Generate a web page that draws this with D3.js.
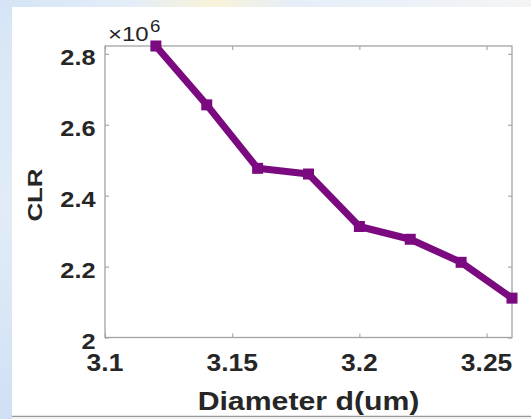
<!DOCTYPE html>
<html lang="en">
<head>
    <meta charset="UTF-8">
    <title>CLR vs Diameter</title>
    <style>
        body {
            margin: 0;
            padding: 0;
            background: #dbe8f6;
        }

        svg {
            display: block;
        }

        .lbl {
            font-family: "Liberation Sans", Arial, sans-serif;
            fill: #262626;
        }
    </style>
</head>
<body>
<svg id="chart"></svg>

<script src="https://d3js.org/d3.v7.min.js"></script>
<script>
    // data (CLR in absolute units, axis shows x10^6)
    var diameter = [3.12, 3.14, 3.16, 3.18, 3.20, 3.22, 3.24, 3.26];
    var clr = [2822000, 2656000, 2477000, 2461000, 2313000, 2277000, 2212000, 2111000];
    var xTicks = [3.1, 3.15, 3.2, 3.25];
    var yTicks = [2000000, 2200000, 2400000, 2600000, 2800000];

    var W = 531, H = 419;
    // plot box edges ("top" is taken by window.top, hence the prefix)
    var boxL = 105, boxR = 512, boxT = 46, boxB = 337.5;

    var svg = d3.select("#chart")
        .attr("width", W)
        .attr("height", H);

    // slide background behind the figure
    var defs = svg.append("defs");
    var grad = defs.append("linearGradient").attr("id", "topstrip");
    grad.append("stop").attr("offset", "0%").attr("stop-color", "#d4e4f6");
    grad.append("stop").attr("offset", "25%").attr("stop-color", "#e4eef8");
    grad.append("stop").attr("offset", "40%").attr("stop-color", "#f8f3d8");
    grad.append("stop").attr("offset", "55%").attr("stop-color", "#e6eef8");
    grad.append("stop").attr("offset", "80%").attr("stop-color", "#edf2f8");
    grad.append("stop").attr("offset", "100%").attr("stop-color", "#f4f4f4");
    var side = defs.append("linearGradient").attr("id", "side")
        .attr("x1", 0).attr("y1", 0).attr("x2", 0).attr("y2", 1);
    side.append("stop").attr("offset", "0%").attr("stop-color", "#d6e5f6");
    side.append("stop").attr("offset", "50%").attr("stop-color", "#e2ecf8");
    side.append("stop").attr("offset", "100%").attr("stop-color", "#cfe0f4");

    svg.append("rect").attr("width", W).attr("height", H).attr("fill", "url(#side)");
    svg.append("rect").attr("width", W).attr("height", 7).attr("fill", "url(#topstrip)");
    svg.append("rect").attr("x", 12).attr("y", 7).attr("width", W - 12).attr("height", 409)
        .attr("fill", "#ffffff");
    svg.append("line").attr("x1", 12).attr("x2", W).attr("y1", 416.5).attr("y2", 416.5)
        .attr("stroke", "#9a9a9a").attr("stroke-width", 1.5);
    svg.append("rect").attr("x", 12).attr("y", 417).attr("width", W - 12).attr("height", 2)
        .attr("fill", "#f2f2f2");

    var x = d3.scaleLinear().domain([3.1, 3.26]).range([boxL, boxR]);
    var y = d3.scaleLinear().domain([2000000, 2822000]).range([boxB, boxT]);

    // inward ticks on all four sides, labels drawn separately
    function styleAxis(g) {
        g.select(".domain").remove();
        g.selectAll("text").remove();
        g.selectAll("line").attr("stroke", "#9a9a9a").attr("stroke-width", 1);
    }
    svg.append("g").attr("transform", "translate(0," + boxB + ")")
        .call(d3.axisTop(x).tickValues(xTicks).tickSize(4)).call(styleAxis);
    svg.append("g").attr("transform", "translate(0," + boxT + ")")
        .call(d3.axisBottom(x).tickValues(xTicks).tickSize(4)).call(styleAxis);
    svg.append("g").attr("transform", "translate(" + boxL + ",0)")
        .call(d3.axisRight(y).tickValues(yTicks).tickSize(4)).call(styleAxis);
    svg.append("g").attr("transform", "translate(" + boxR + ",0)")
        .call(d3.axisLeft(y).tickValues(yTicks).tickSize(4)).call(styleAxis);

    svg.append("rect")
        .attr("x", boxL).attr("y", boxT)
        .attr("width", boxR - boxL).attr("height", boxB - boxT)
        .attr("fill", "none")
        .attr("stroke", "#a3a3a3")
        .attr("stroke-width", 1.3);

    // the figure font renders wider than Arial, so stretch along the baseline
    function label(px, py, str, size, weight, sx, anchor, rot) {
        return svg.append("text")
            .attr("class", "lbl")
            .attr("transform", "translate(" + px + "," + py + ")" + (rot ? " rotate(" + rot + ")" : "") + " scale(" + sx + ",1)")
            .attr("text-anchor", anchor)
            .attr("font-size", size)
            .attr("font-weight", weight)
            .text(str);
    }

    xTicks.forEach(function (t) {
        label(x(t), 371, d3.format("")(t), 23, "bold", 1.15, "middle");
    });
    yTicks.forEach(function (t) {
        label(95.5, y(t) + 11, d3.format("")(t / 1e6), 22, "bold", 1.15, "end");
    });

    // exponent label
    label(108, 40.5, "\u00d710", 20, "normal", 1.2, "start");
    label(150, 31.5, "6", 17, "normal", 1.1, "start");

    label(308.5, 409.5, "Diameter d(um)", 25, "bold", 1.21, "middle");
    label(42, 195, "CLR", 21, "bold", 1.23, "middle", -90);

    // data line and markers
    var pts = diameter.map(function (d, i) { return [d, clr[i]]; });
    var line = d3.line().x(function (d) { return x(d[0]); }).y(function (d) { return y(d[1]); });

    svg.append("path")
        .datum(pts)
        .attr("d", line)
        .attr("fill", "none")
        .attr("stroke", "#7b0a80")
        .attr("stroke-width", 7)
        .attr("stroke-linejoin", "round");

    svg.selectAll(".mk")
        .data(pts)
        .enter().append("rect")
        .attr("class", "mk")
        .attr("x", function (d) { return x(d[0]) - 5.5; })
        .attr("y", function (d) { return y(d[1]) - 5.5; })
        .attr("width", 11)
        .attr("height", 11)
        .attr("fill", "#7b0a80");
</script>
</body>
</html>
